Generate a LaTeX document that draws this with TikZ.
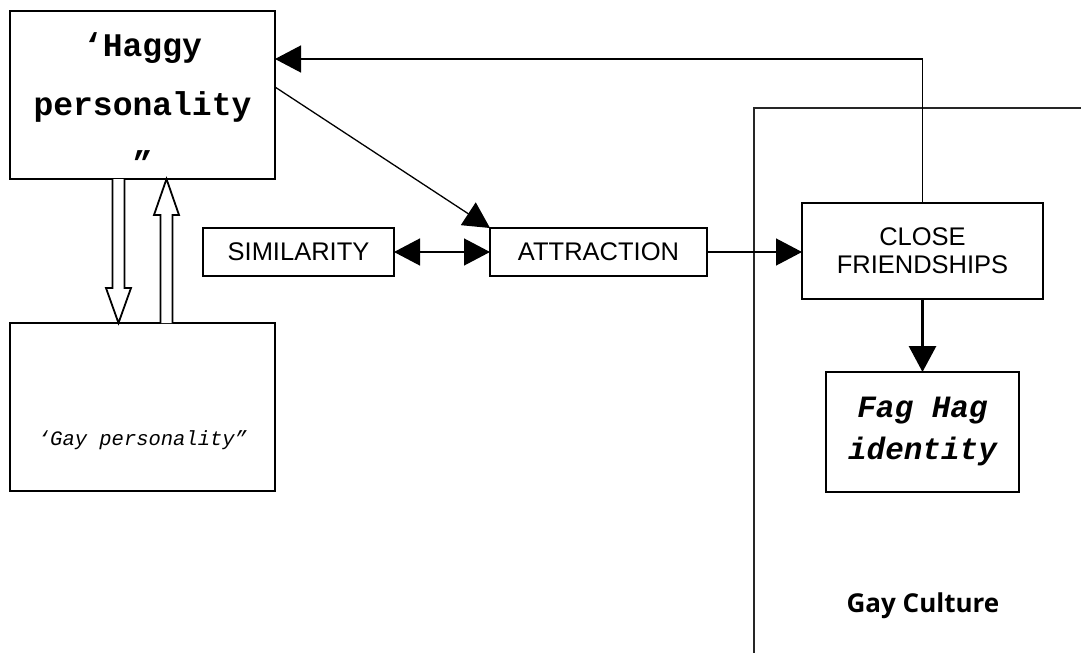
\documentclass[tikz,border=0pt]{standalone}
\usepackage{fontspec}
\usepackage{tikz}
\usetikzlibrary{
    arrows.meta, % For arrow tips
    calc,        % For shifted anchors
    positioning  % For relative placement
}
\newfontfamily\typefam{Liberation Mono}
\newfontfamily\arialfam{Liberation Sans}
\newfontfamily\culturefam{Open Sans}

\begin{document}
\begin{tikzpicture}[
    x=1bp, y=-1bp, % picture units follow the page (y grows downwards)
    >={Triangle[length=26bp, width=27bp]}, % Default arrow tip
    box/.style={draw, line width=1.8bp, outer sep=0pt, inner sep=0pt}, % Framed boxes
    caps/.style={font=\arialfam\fontsize{25.5bp}{28bp}\selectfont, align=center},
    link/.style={->, line width=1.3bp},      % Thin connectors
    boldlink/.style={->, line width=3bp},     % Thick connector
    hollow/.style={line width=1.8bp, line join=miter, fill=white}, % Open block arrows
    frame/.style={line width=1.8bp, black!85} % Gay culture frame
]
    \useasboundingbox (0,0) rectangle (1081,653);

    % Gay culture frame (runs off the page)
    \draw[frame] (754,670) |- (1100,108);

    % Personality boxes
    \node[box, minimum width=265bp, minimum height=168bp] (hag) at (142.5,95) {};
    \node[align=center, font=\typefam\bfseries\fontsize{33bp}{59bp}\selectfont]
          (hagtext) at ([yshift=-9bp]hag.center) {‘Haggy\\personality\\”};
    \node[box, minimum width=265bp, minimum height=168bp] (gay) at (142.5,407) {};
    \node[font=\typefam\itshape\fontsize{20.5bp}{24bp}\selectfont]
          (gaytext) at ([yshift=-33bp]gay.center) {‘Gay personality”};

    % Middle row
    \node[box, caps, minimum width=191bp, minimum height=48bp] (sim) at (298.5,252) {SIMILARITY};
    \node[box, caps, minimum width=217bp, minimum height=48bp, right=96bp of sim] (att) {ATTRACTION};
    \node[box, caps, minimum width=241bp, minimum height=96bp] (cf) at (922.5,251) {CLOSE\\FRIENDSHIPS};

    % Identity and culture
    \node[box, minimum width=193bp, minimum height=120bp, align=center,
          font=\typefam\bfseries\itshape\fontsize{31bp}{42bp}\selectfont]
          (fh) at (922.5,432) {Fag Hag\\identity};
    \node[font=\culturefam\bfseries\fontsize{26bp}{30bp}\selectfont] (culture) at (923,606) {Gay Culture};

    % Block arrows between the personalities
    \draw[hollow] ($(hag.south)+(-30,0)$) -- ++(0,109) -- ++(-6.5,0)
        -- ($(gay.north)+(-24,0)$) -- ++(12.5,-35) -- ++(-6.5,0)
        -- ($(hag.south)+(-18,0)$);
    \draw[hollow] ($(gay.north)+(18,0)$) -- ++(0,-108) -- ++(-6.5,0)
        -- ($(hag.south)+(24,0)$) -- ++(12.5,36) -- ++(-6.5,0)
        -- ($(gay.north)+(30,0)$);

    % Connectors
    \draw[link, <->] (sim.east) -- (sim.east -| att.west);
    \draw[link] ([yshift=8bp]hag.east) -- (att.north west);
    \draw[link] (att.east) -- (att.east -| cf.west);
    \draw[link] (cf.north) |- ([yshift=36bp]hag.east);
    \draw[boldlink] (cf.south) -- (fh.north);

\end{tikzpicture}
\end{document}
